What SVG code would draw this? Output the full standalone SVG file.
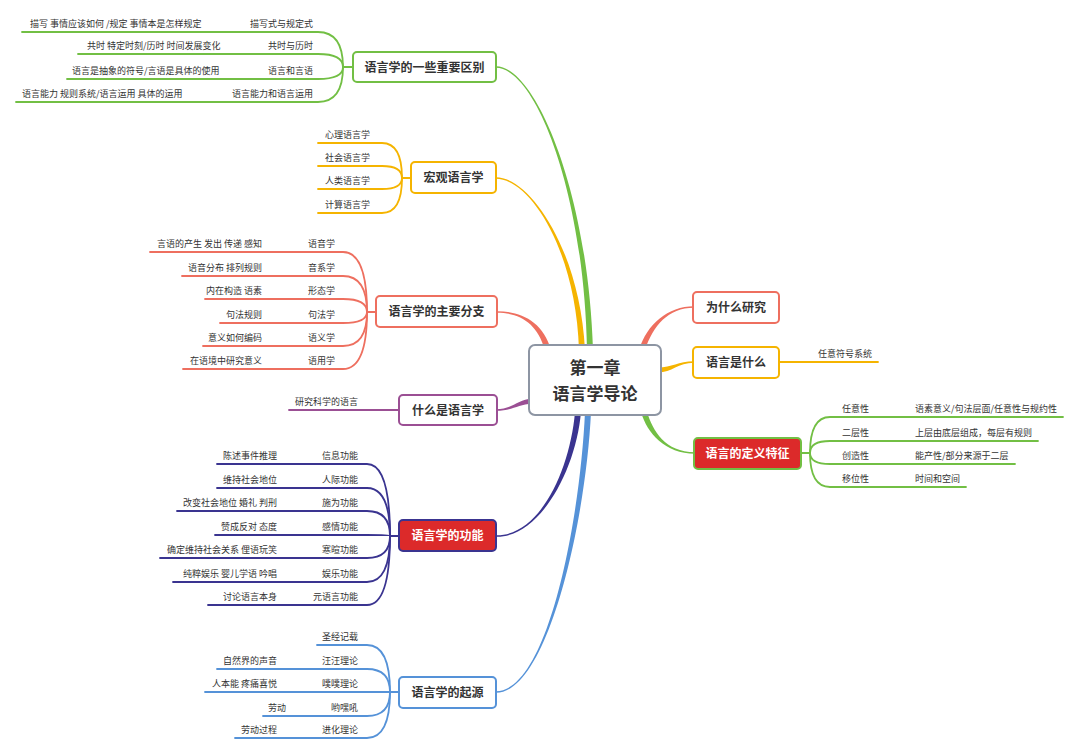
<svg xmlns="http://www.w3.org/2000/svg" width="1080" height="756" viewBox="0 0 1080 756">
<style>
text{font-family:"Noto Sans CJK SC","Noto Sans",sans-serif;fill:#333}
.t{font-size:9px}
.e{text-anchor:end}
.n{font-size:12px;font-weight:bold;text-anchor:middle}
.w{fill:#fff}
.c{font-size:17px;font-weight:bold;text-anchor:middle}
.l{fill:none;stroke-width:1.8;stroke-linecap:round}
.g{stroke:#72bf44}.y{stroke:#f5b400}.s{stroke:#ee6f5f}.p{stroke:#9b4f94}.v{stroke:#3a3490}.b{stroke:#5592d8}
.box{fill:#fff;stroke-width:2}
</style>
<rect width="1080" height="756" fill="#fff"/>
<g id="connectors">
<path fill="#72bf44" d="M496,66.2 C535,66.2 588,190 593,350 L587,350 C584,190 535,67.8 496,67.8 Z"/>
<path fill="#f5b400" d="M496,177.2 C530,177.2 580,250 585,350 L579,350 C576,250 530,178.8 496,178.8 Z"/>
<path fill="#ee6f5f" d="M497,311.2 C520,311.2 543,321 551,350 L545,350 C537,323 520,312.8 497,312.8 Z"/>
<path fill="#9b4f94" d="M496,409.2 C512,409.2 518,399.5 532,398.5 L532,403.5 C518,404.5 512,410.8 496,410.8 Z"/>
<path fill="#3a3490" d="M497,536.8 C540,536.8 576,470 581,412 L575,412 C570,470 540,535.2 497,535.2 Z"/>
<path fill="#5592d8" d="M496,692.8 C548,692.8 586,520 591,412 L585,412 C580,520 548,691.2 496,691.2 Z"/>
<path fill="#ee6f5f" d="M694,306.2 C668,306.2 647,324 639,350 L645,350 C653,326 668,307.8 694,307.8 Z"/>
<path fill="#f5b400" d="M694,361.2 C678,361.2 672,367.5 658,367.5 L658,372.5 C672,372.5 678,362.8 694,362.8 Z"/>
<path fill="#72bf44" d="M695,453.8 C665,453.8 647,433 641,412 L647,412 C653,431 665,452.2 695,452.2 Z"/>
<g class="l g">
<path d="M22,32 H318 Q343,32 343,67"/><path d="M78,54 H318 Q343,54 343,67"/><path d="M67,79 H318 Q343,79 343,67"/><path d="M16,102 H318 Q343,102 343,67"/><path d="M343,67 H353"/>
</g>
<g class="l y">
<path d="M318,143 H382 Q402,143 402,178"/><path d="M318,166 H382 Q402,166 402,178"/><path d="M318,189 H382 Q402,189 402,178"/><path d="M318,213 H382 Q402,213 402,178"/><path d="M402,178 H411"/>
<path d="M779,362 H878"/>
</g>
<g class="l s">
<path d="M150,252 H343 Q367,252 367,312"/><path d="M182,276 H343 Q367,276 367,312"/><path d="M205,299 H343 Q367,299 367,312"/><path d="M220,323 H343 Q367,323 367,312"/><path d="M203,346 H343 Q367,346 367,312"/><path d="M183,369 H343 Q367,369 367,312"/><path d="M367,312 H376"/>
</g>
<g class="l p"><path d="M289,410 H399"/></g>
<g class="l v">
<path d="M217,464 H367 Q390,464 390,536"/><path d="M217,488 H367 Q390,488 390,536"/><path d="M177,511 H367 Q390,511 390,536"/><path d="M215,535 H367 Q390,535 390,536"/><path d="M160,558 H367 Q390,558 390,536"/><path d="M173,582 H367 Q390,582 390,536"/><path d="M208,605 H367 Q390,605 390,536"/><path d="M390,536 H399"/>
</g>
<g class="l b">
<path d="M317,645 H367 Q390,645 390,692"/><path d="M217,669 H367 Q390,669 390,692"/><path d="M205,692 H399"/><path d="M263,716 H367 Q390,716 390,692"/><path d="M235,738 H367 Q390,738 390,692"/>
</g>
<g class="l g">
<path d="M801,453 H810"/>
<path d="M810,453 Q810,417 830,417 H1063"/><path d="M810,453 Q810,441 830,441 H1038"/><path d="M810,453 Q810,464 830,464 H1015"/><path d="M810,453 Q810,487 830,487 H966"/>
</g>
</g>
<g id="center"><rect class="box" x="529" y="345" width="132" height="70" rx="6" stroke="#8d95a3"/><text class="c" x="595" y="374">第一章</text><text class="c" x="595" y="400">语言学导论</text></g>
<g id="qubie"><rect class="box" x="353" y="52" width="143" height="30" rx="4" stroke="#72bf44"/><text class="n" x="424.5" y="71.5">语言学的一些重要区别</text></g>
<g id="qubie-1"><text class="t e" x="313" y="27">描写式与规定式</text><text class="t" x="30" y="27">描写 事情应该如何 /规定 事情本是怎样规定</text></g>
<g id="qubie-2"><text class="t e" x="313" y="49">共时与历时</text><text class="t" x="87" y="49">共时 特定时刻/历时 时间发展变化</text></g>
<g id="qubie-3"><text class="t e" x="313" y="74">语言和言语</text><text class="t" x="72" y="74">语言是抽象的符号/言语是具体的使用</text></g>
<g id="qubie-4"><text class="t e" x="313" y="97">语言能力和语言运用</text><text class="t" x="22" y="97">语言能力 规则系统/语言运用 具体的运用</text></g>
<g id="hongguan"><rect class="box" x="411" y="162" width="85" height="31" rx="4" stroke="#f5b400"/><text class="n" x="453.5" y="182">宏观语言学</text></g>
<g id="hongguan-1"><text class="t" x="325" y="138">心理语言学</text></g>
<g id="hongguan-2"><text class="t" x="325" y="161">社会语言学</text></g>
<g id="hongguan-3"><text class="t" x="325" y="184">人类语言学</text></g>
<g id="hongguan-4"><text class="t" x="325" y="208">计算语言学</text></g>
<g id="fenzhi"><rect class="box" x="376" y="296" width="121" height="31" rx="4" stroke="#ee6f5f"/><text class="n" x="436.5" y="316">语言学的主要分支</text></g>
<g id="fenzhi-1"><text class="t e" x="335" y="247">语音学</text><text class="t e" x="262" y="247">言语的产生 发出 传递 感知</text></g>
<g id="fenzhi-2"><text class="t e" x="335" y="271">音系学</text><text class="t e" x="262" y="271">语音分布 排列规则</text></g>
<g id="fenzhi-3"><text class="t e" x="335" y="294">形态学</text><text class="t e" x="262" y="294">内在构造 语素</text></g>
<g id="fenzhi-4"><text class="t e" x="335" y="318">句法学</text><text class="t e" x="262" y="318">句法规则</text></g>
<g id="fenzhi-5"><text class="t e" x="335" y="341">语义学</text><text class="t e" x="262" y="341">意义如何编码</text></g>
<g id="fenzhi-6"><text class="t e" x="335" y="364">语用学</text><text class="t e" x="262" y="364">在语境中研究意义</text></g>
<g id="shenme"><rect class="box" x="399" y="395" width="98" height="30" rx="4" stroke="#9b4f94"/><text class="n" x="448" y="414.5">什么是语言学</text></g>
<g id="shenme-1"><text class="t" x="295" y="405">研究科学的语言</text></g>
<g id="gongneng"><rect class="box" x="399" y="520" width="97" height="31" rx="4" stroke="#3a3490" style="fill:#dc2a2a"/><text class="n w" x="447.5" y="540">语言学的功能</text></g>
<g id="gongneng-1"><text class="t e" x="358" y="459">信息功能</text><text class="t e" x="277" y="459">陈述事件推理</text></g>
<g id="gongneng-2"><text class="t e" x="358" y="483">人际功能</text><text class="t e" x="277" y="483">维持社会地位</text></g>
<g id="gongneng-3"><text class="t e" x="358" y="506">施为功能</text><text class="t e" x="277" y="506">改变社会地位 婚礼 判刑</text></g>
<g id="gongneng-4"><text class="t e" x="358" y="530">感情功能</text><text class="t e" x="277" y="530">赞成反对 态度</text></g>
<g id="gongneng-5"><text class="t e" x="358" y="553">寒暄功能</text><text class="t e" x="277" y="553">确定维持社会关系 俚语玩笑</text></g>
<g id="gongneng-6"><text class="t e" x="358" y="577">娱乐功能</text><text class="t e" x="277" y="577">纯粹娱乐 婴儿学语 吟唱</text></g>
<g id="gongneng-7"><text class="t e" x="358" y="600">元语言功能</text><text class="t e" x="277" y="600">讨论语言本身</text></g>
<g id="qiyuan"><rect class="box" x="399" y="677" width="97" height="31" rx="4" stroke="#5592d8"/><text class="n" x="447.5" y="697">语言学的起源</text></g>
<g id="qiyuan-1"><text class="t e" x="358" y="640">圣经记载</text></g>
<g id="qiyuan-2"><text class="t e" x="358" y="664">汪汪理论</text><text class="t e" x="277" y="664">自然界的声音</text></g>
<g id="qiyuan-3"><text class="t e" x="358" y="687">噗噗理论</text><text class="t e" x="277" y="687">人本能 疼痛喜悦</text></g>
<g id="qiyuan-4"><text class="t e" x="358" y="711">哟嘿吼</text><text class="t" x="268" y="711">劳动</text></g>
<g id="qiyuan-5"><text class="t e" x="358" y="733">进化理论</text><text class="t e" x="277" y="733">劳动过程</text></g>
<g id="weishenme"><rect class="box" x="693" y="292" width="86" height="31" rx="4" stroke="#ee6f5f"/><text class="n" x="736" y="312">为什么研究</text></g>
<g id="shishenme"><rect class="box" x="693" y="347" width="86" height="31" rx="4" stroke="#f5b400"/><text class="n" x="736" y="367">语言是什么</text></g>
<g id="shishenme-1"><text class="t" x="818" y="357">任意符号系统</text></g>
<g id="tezheng"><rect class="box" x="694" y="438" width="107" height="31" rx="4" stroke="#72bf44" style="fill:#dc2a2a"/><text class="n w" x="747.5" y="458">语言的定义特征</text></g>
<g id="tezheng-1"><text class="t" x="842" y="412">任意性</text><text class="t" x="915" y="412">语素意义/句法层面/任意性与规约性</text></g>
<g id="tezheng-2"><text class="t" x="842" y="436">二层性</text><text class="t" x="915" y="436">上层由底层组成，每层有规则</text></g>
<g id="tezheng-3"><text class="t" x="842" y="459">创造性</text><text class="t" x="915" y="459">能产性/部分来源于二层</text></g>
<g id="tezheng-4"><text class="t" x="842" y="482">移位性</text><text class="t" x="915" y="482">时间和空间</text></g>
</svg>
